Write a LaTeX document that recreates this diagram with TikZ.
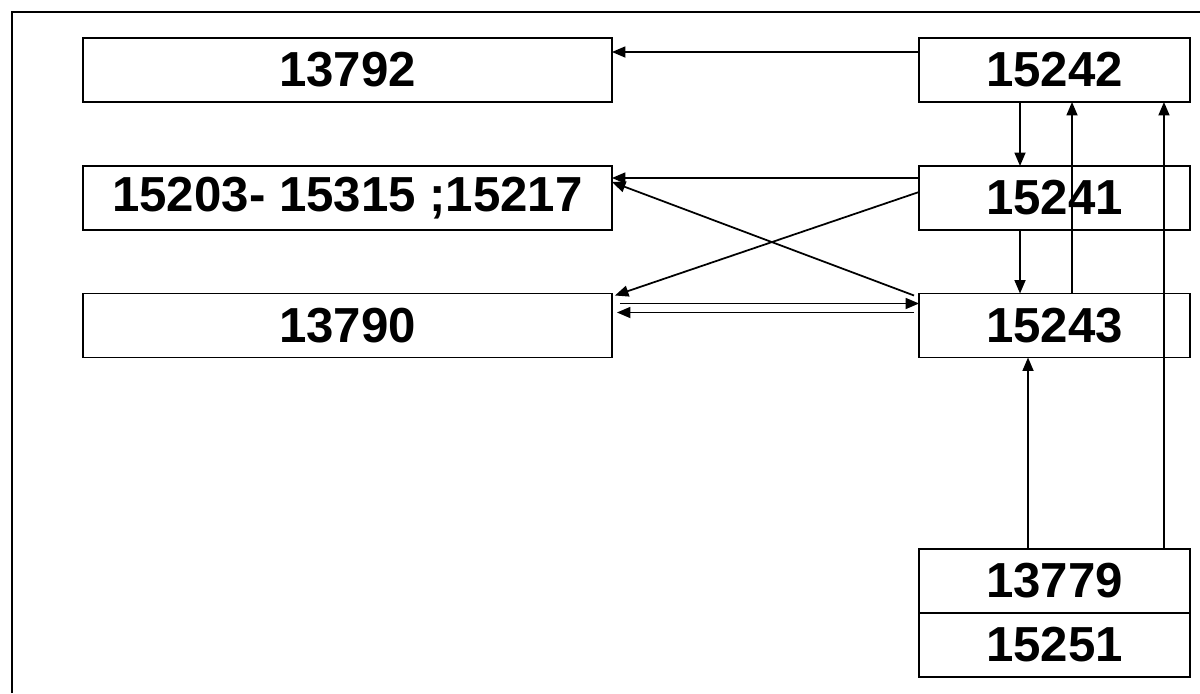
\documentclass[tikz,border=0pt]{standalone}
\usepackage{fontspec}
\setmainfont{Liberation Sans}
\usetikzlibrary{arrows.meta}
\begin{document}
\begin{tikzpicture}[
        x=0.02cm, y=-0.02cm,
        wide/.style={rectangle, draw, line width=1pt, minimum width=10.58cm, minimum height=1.28cm, inner sep=0pt, outer sep=0pt, font=\bfseries\fontsize{28}{30}\selectfont},
        narrow/.style={wide, minimum width=5.42cm},
        link/.style={-{Triangle[length=0.27cm,width=0.22cm]}, line width=1pt},
    ]
        \useasboundingbox (0,0) rectangle (1200,693);
        % Frame
        \draw[line width=1pt] (12,693) -- (12,12) -- (1200,12);
        
        % Left boxes
        \node[wide] (b13792) at (347.5, 70) {13792};
        \node[wide] (b15203) at (347.5, 198) {15203- 15315 ;15217};
        \node[wide] (b13790) at (347.5, 325.5) {13790};
        
        % Right boxes
        \node[narrow] (b15242) at (1054.5, 70) {15242};
        \node[narrow] (b15241) at (1054.5, 198) {15241};
        \node[narrow] (b15243) at (1054.5, 325.5) {15243};
        
        % Bottom boxes
        \node[narrow] (b13779) at (1054.5, 581) {13779};
        \node[narrow] (b15251) at (1054.5, 645) {15251};
        
        % Arrows
        \draw[link] ([yshift=-0.28cm]b15242.north west) -- ([yshift=-0.28cm]b13792.north east);
        \draw[link] ([yshift=-0.24cm]b15241.north west) -- ([yshift=-0.24cm]b15203.north east);
        \draw[link] ([shift={(-0.1cm,-0.04cm)}]b15243.north west) -- ([yshift=-0.32cm]b15203.north east);
        \draw[link] ([yshift=-0.52cm]b15241.north west) -- ([shift={(0.06cm,-0.04cm)}]b13790.north east);
        \draw[link] ([shift={(0.16cm,-0.2cm)}]b13790.north east) -- ([yshift=-0.2cm]b15243.north west);
        \draw[link] ([shift={(-0.1cm,-0.38cm)}]b15243.north west) -- ([shift={(0.1cm,-0.38cm)}]b13790.north east);
        \draw[link] ([xshift=-0.69cm]b15242.south) -- ([xshift=-0.69cm]b15241.north);
        \draw[link] ([xshift=-0.69cm]b15241.south) -- ([xshift=-0.69cm]b15243.north);
        \draw[link] ([xshift=0.35cm]b15243.north) -- ([xshift=0.35cm]b15242.south);
        \draw[link] ([xshift=2.19cm]b13779.north) -- ([xshift=2.19cm]b15242.south);
        \draw[link] ([xshift=-0.53cm]b13779.north) -- ([xshift=-0.53cm]b15243.south);
        
    \end{tikzpicture}
\end{document}
